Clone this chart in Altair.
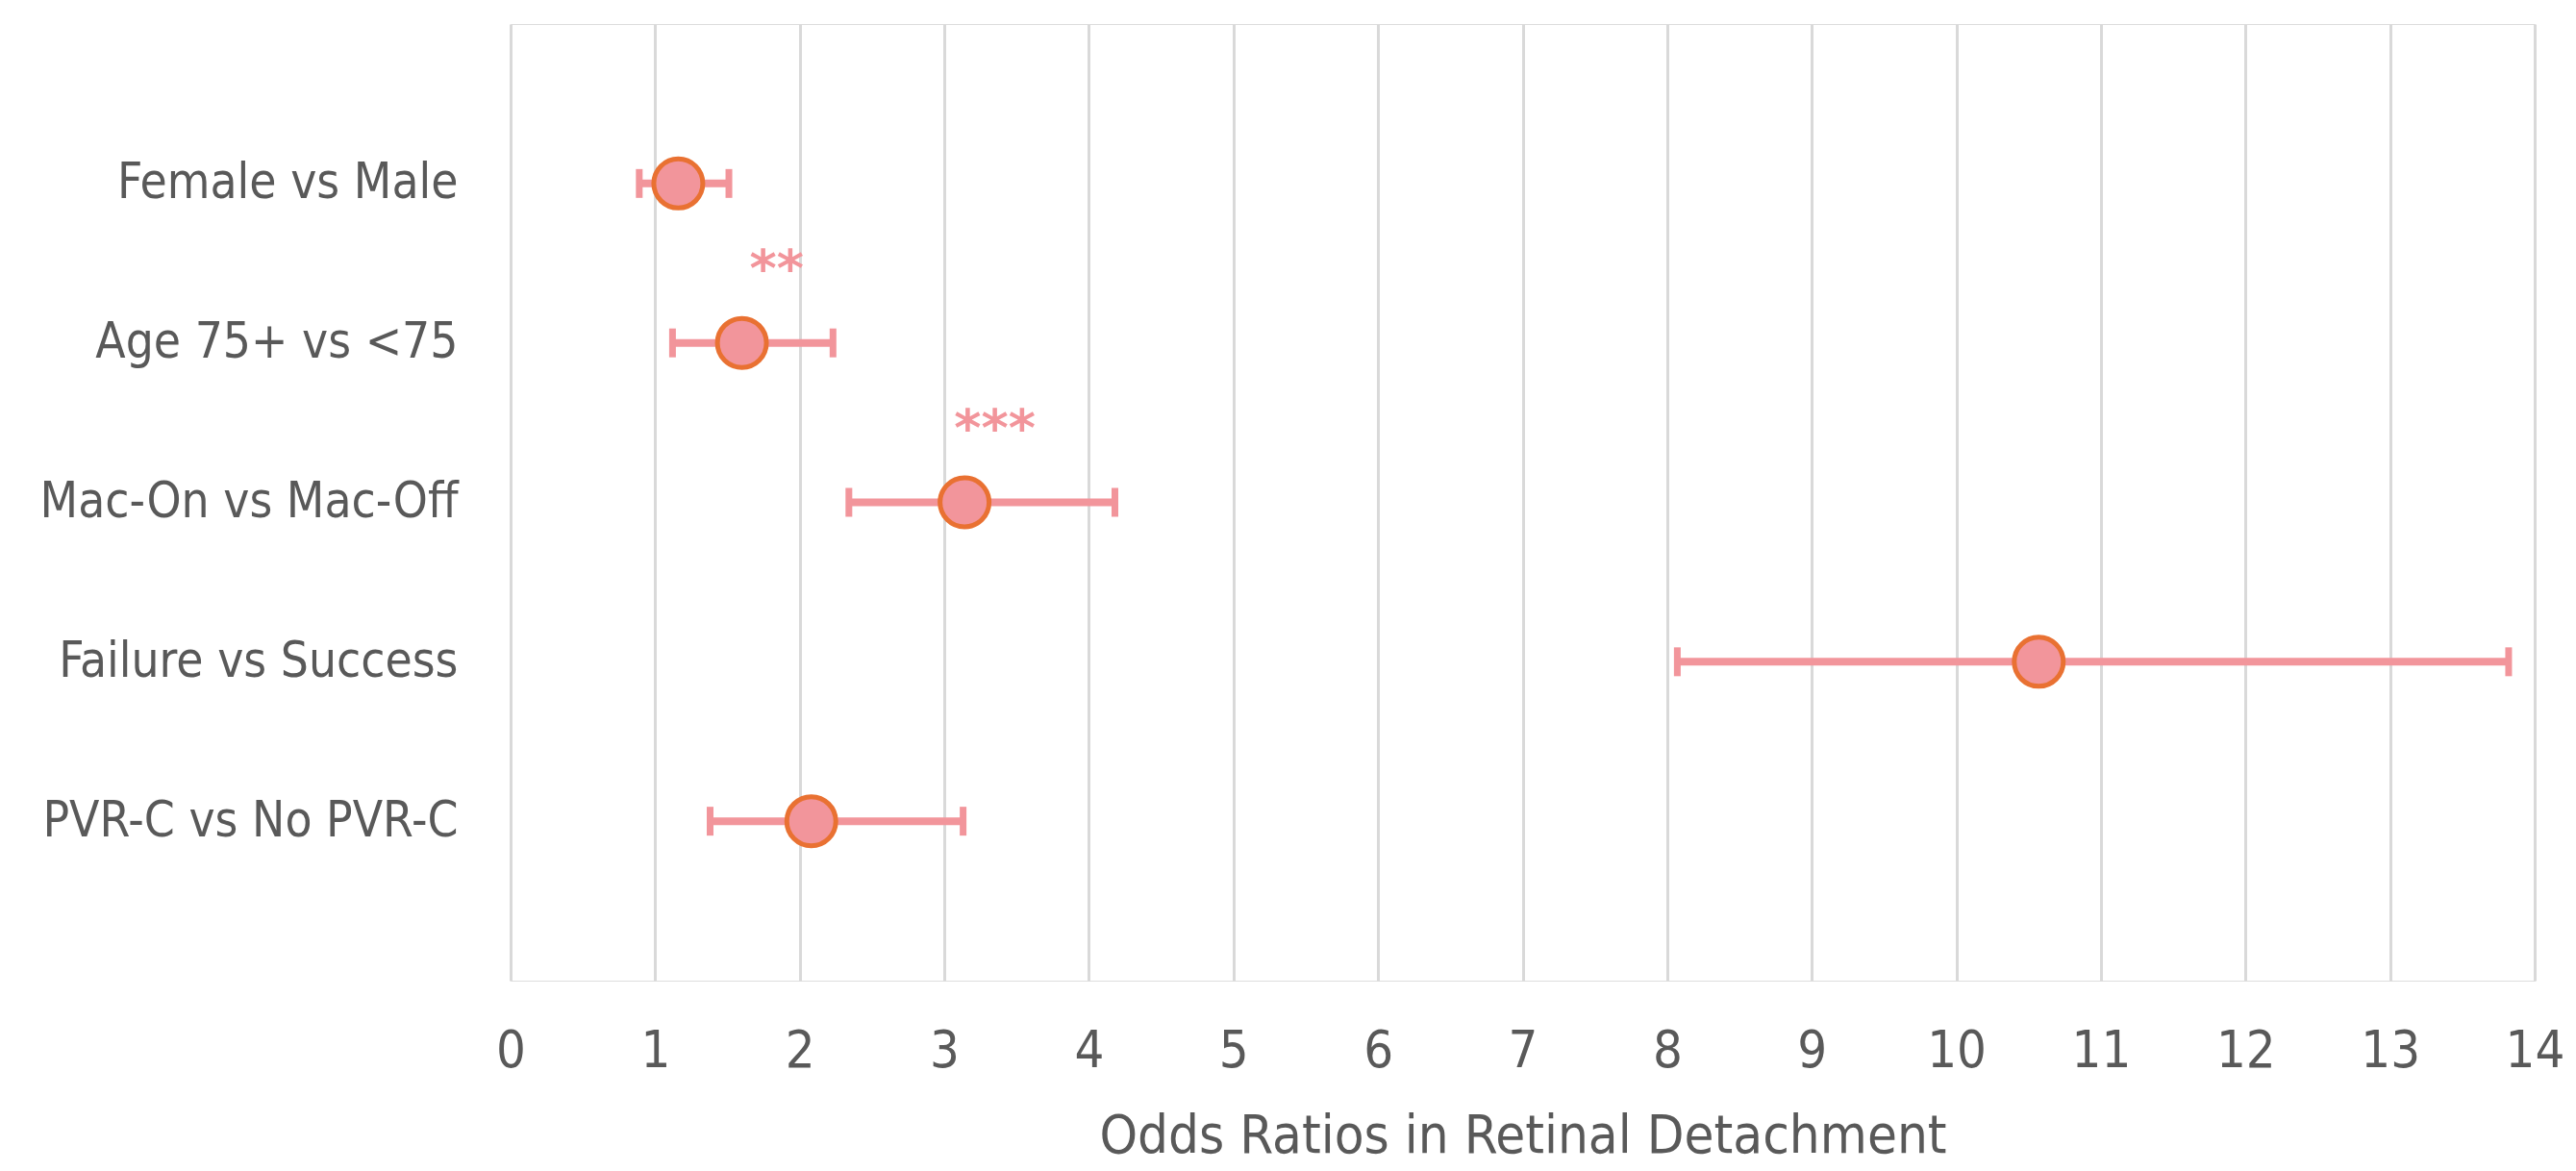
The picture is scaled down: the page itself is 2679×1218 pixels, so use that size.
import json
import altair as alt
import pandas as pd

# ---- data ----
categories = ["Female vs Male", "Age 75+ vs <75", "Mac-On vs Mac-Off",
              "Failure vs Success", "PVR-C vs No PVR-C"]
odds_ratio = [1.16, 1.60, 3.14, 10.57, 2.08]
ci_low = [0.89, 1.12, 2.34, 8.07, 1.38]
ci_high = [1.51, 2.23, 4.18, 13.82, 3.13]
star_category = ["Age 75+ vs <75", "Mac-On vs Mac-Off"]
star_text = ["**", "***"]
star_x = [1.84, 3.35]
x_ticks = list(range(0, 15))
x_title = "Odds Ratios in Retinal Detachment"

PINK = "#F2959B"
ORANGE = "#E97132"
TEXT = "#595959"
GRID = "#d9d9d9"
FONT = "Liberation Sans Narrow, DejaVu Sans Condensed, Roboto, sans-serif"

n = len(categories)
pos = [n - i for i in range(n)]
df = pd.DataFrame({"category": categories, "pos": pos, "or": odds_ratio,
                   "lo": ci_low, "hi": ci_high})
star_pos = [pos[categories.index(c)] + 0.5 for c in star_category]
sdf = pd.DataFrame({"text": star_text, "x": star_x, "pos": star_pos})

labels_by_pos = [""] * (n + 2)
for c, p in zip(categories, pos):
    labels_by_pos[p] = c
label_expr = json.dumps(labels_by_pos) + "[datum.value]"

xscale = alt.Scale(domain=[0, 14], nice=False, zero=False)
yscale = alt.Scale(domain=[0, n + 1], nice=False, zero=False)

x_axis = alt.Axis(values=x_ticks, format="d", grid=True, gridColor=GRID,
                  gridWidth=3, domain=False, ticks=False, labelPadding=46,
                  labelOverlap=False, labelFlush=False, labelBound=False,
                  labelFontSize=54, labelColor=TEXT,
                  labelFont=FONT, labelLimit=1000,
                  title=x_title, titleFontSize=56, titleColor=TEXT,
                  titleFont=FONT, titleFontWeight="normal",
                  titleBaseline="alphabetic", titleY=178)
y_axis = alt.Axis(values=pos, grid=False, domain=False, ticks=False,
                  labelExpr=label_expr, labelPadding=55, labelFontSize=51,
                  labelColor=TEXT, labelFont=FONT, labelLimit=1000,
                  labelOverlap=False, title=None)

base = alt.Chart(df)

rules = base.mark_rule(color=PINK, strokeWidth=8).encode(
    x=alt.X("lo:Q", scale=xscale, axis=x_axis),
    x2="hi:Q",
    y=alt.Y("pos:Q", scale=yscale, axis=y_axis),
)

caps = base.transform_fold(["lo", "hi"], as_=["end", "val"]).mark_tick(
    color=PINK, orient="vertical", size=30, thickness=7, opacity=1
).encode(
    x=alt.X("val:Q", scale=xscale),
    y=alt.Y("pos:Q", scale=yscale),
)

points = base.mark_point(shape="circle", filled=True, size=2600, fill=PINK,
                         stroke=ORANGE, strokeWidth=5, opacity=1).encode(
    x=alt.X("or:Q", scale=xscale),
    y=alt.Y("pos:Q", scale=yscale),
)

stars = alt.Chart(sdf).mark_text(color=PINK, fontSize=54, fontWeight="bold",
                                 font="DejaVu Sans", baseline="middle",
                                 align="center", dy=8).encode(
    x=alt.X("x:Q", scale=xscale),
    y=alt.Y("pos:Q", scale=yscale),
    text="text:N",
)

chart = alt.layer(rules, caps, points, stars).properties(
    width=2105, height=995,
    autosize=alt.AutoSizeParams(type="none"),
    padding={"left": 523, "top": 17, "right": 30, "bottom": 190},
).configure_view(stroke="#e0e0e0", strokeWidth=5).configure(background="white")

chart.save("out.html", embed_options={"renderer": "svg", "actions": False})
